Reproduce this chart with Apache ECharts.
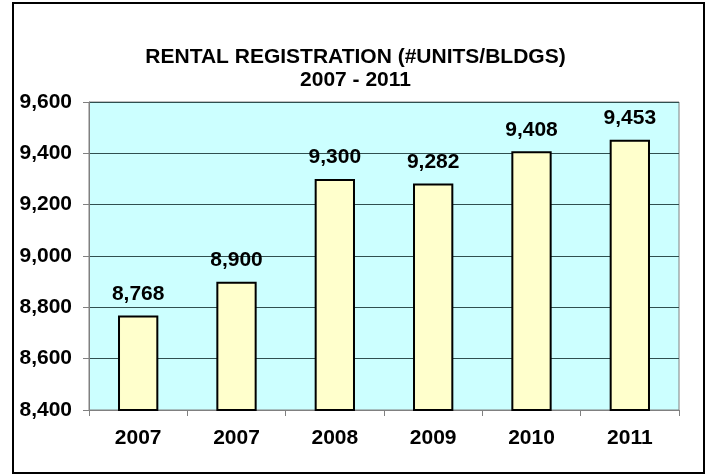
<!DOCTYPE html>
<html>
<head>
<meta charset="utf-8">
<script src="https://cdn.jsdelivr.net/npm/echarts@6/dist/echarts.min.js"></script>
<style>
  html, body { margin: 0; padding: 0; background: #fff; }
  #chart { width: 711px; height: 475px; }
</style>
</head>
<body>
<div id="chart"></div>
<script>
// 数据
const categories = ["2007", "2007", "2008", "2009", "2010", "2011"];
const units = [8768, 8900, 9300, 9282, 9408, 9453];

const fmt = (v) => Number(v).toLocaleString("en-US");

const chart = echarts.init(document.getElementById("chart"));
const option = {
  backgroundColor: "#ffffff",
  animation: false,
  title: {
    text: "RENTAL REGISTRATION (#UNITS/BLDGS)\n2007 - 2011",
    left: "center",
    top: 41,
    textStyle: {
      fontFamily: "Liberation Sans, Arial",
      fontSize: 21,
      fontWeight: "bold",
      color: "#000",
      lineHeight: 23,
    },
  },
  graphic: [
    {
      type: "rect",
      shape: { x: 13, y: 3, width: 691, height: 470 },
      style: { fill: "none", stroke: "#000", lineWidth: 2 },
      silent: true,
    },
  ],
  grid: {
    left: 89,
    right: 32,
    top: 102,
    bottom: 65,
    show: true,
    backgroundColor: "#ccffff",
    borderColor: "#808080",
    borderWidth: 1,
  },
  xAxis: {
    type: "category",
    data: categories,
    axisLine: { show: true, lineStyle: { color: "#808080", width: 1 } },
    axisTick: { show: true, alignWithLabel: false, length: 6, lineStyle: { color: "#808080" } },
    axisLabel: {
      margin: 18,
      fontFamily: "Liberation Sans, Arial",
      fontSize: 21,
      fontWeight: "bold",
      color: "#000",
    },
  },
  yAxis: {
    type: "value",
    min: 8400,
    max: 9600,
    interval: 200,
    axisLine: { show: true, lineStyle: { color: "#808080", width: 1 } },
    axisTick: { show: true, length: 6, lineStyle: { color: "#808080" } },
    splitLine: { show: true, lineStyle: { color: "#2f4f4f", width: 1 } },
    axisLabel: {
      margin: 17,
      formatter: fmt,
      fontFamily: "Liberation Sans, Arial",
      fontSize: 21,
      fontWeight: "bold",
      color: "#000",
    },
  },
  series: [
    {
      type: "bar",
      data: units,
      barWidth: "41%",
      itemStyle: { color: "#ffffcc", borderColor: "#000", borderWidth: 2 },
      label: {
        show: true,
        position: "top",
        distance: 11,
        formatter: (p) => fmt(p.value),
        fontFamily: "Liberation Sans, Arial",
        fontSize: 21,
        fontWeight: "bold",
        color: "#000",
      },
    },
  ],
};
chart.setOption(option);
</script>
</body>
</html>
